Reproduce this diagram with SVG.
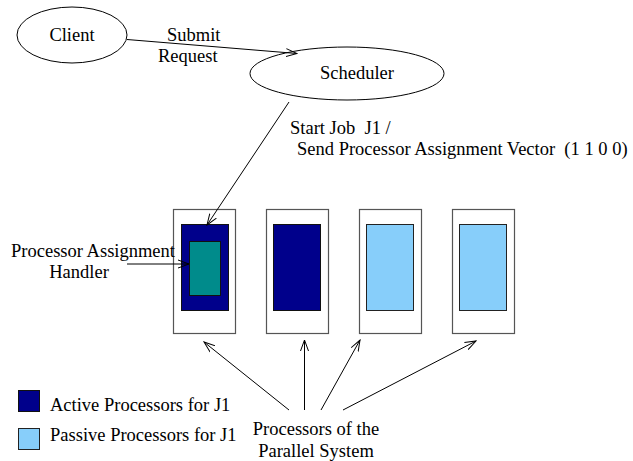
<svg xmlns="http://www.w3.org/2000/svg" width="633" height="461" viewBox="0 0 633 461">
<style>
text{font-family:"Liberation Serif","Times New Roman",serif;font-size:18.5px;fill:#000;white-space:pre}
.ell{fill:#fff;stroke:#000;stroke-width:1}
.outer{fill:#fff;stroke:#555;stroke-width:1.2}
.active{fill:#00008b;stroke:#111;stroke-width:1}
.passive{fill:#87cefa;stroke:#222;stroke-width:1}
.handler{fill:#008b8b;stroke:#111;stroke-width:1}
.conn{stroke:#000;stroke-width:1;fill:none;marker-end:url(#arr)}
</style>
<defs>
<marker id="arr" viewBox="0 0 12 10" refX="11" refY="5" markerWidth="12" markerHeight="10" markerUnits="userSpaceOnUse" orient="auto">
<polyline points="0,1 11,5 0,9" fill="none" stroke="#000" stroke-width="1"/>
</marker>
</defs>
<g id="client">
<ellipse class="ell" cx="72" cy="35" rx="55" ry="28"/>
<text x="72" y="41" text-anchor="middle">Client</text>
</g>
<g id="scheduler">
<ellipse class="ell" cx="347" cy="73.5" rx="97" ry="26.5"/>
<text x="357" y="79" text-anchor="middle">Scheduler</text>
</g>
<g id="proc1">
<rect class="outer" x="173.5" y="209.5" width="62" height="124"/>
<rect class="active" x="181.5" y="224.5" width="47" height="86"/>
</g>
<g id="handler">
<rect class="handler" x="189.5" y="241.5" width="31" height="54"/>
</g>
<g id="proc2">
<rect class="outer" x="266.5" y="209.5" width="62" height="124"/>
<rect class="active" x="273.5" y="224.5" width="47" height="86"/>
</g>
<g id="proc3">
<rect class="outer" x="359.5" y="209.5" width="62" height="124"/>
<rect class="passive" x="366.5" y="224.5" width="47" height="86"/>
</g>
<g id="proc4">
<rect class="outer" x="452.5" y="209.5" width="62" height="124"/>
<rect class="passive" x="459.5" y="224.5" width="47" height="86"/>
</g>
<g id="connectors">
<line class="conn" x1="127" y1="39.5" x2="297" y2="53.5"/>
<line class="conn" x1="289" y1="102" x2="207" y2="225"/>
<line class="conn" x1="127" y1="264" x2="189" y2="264"/>
<line class="conn" x1="289" y1="410" x2="204" y2="342"/>
<line class="conn" x1="304.5" y1="410" x2="304.5" y2="340"/>
<line class="conn" x1="321" y1="410" x2="360" y2="340"/>
<line class="conn" x1="343" y1="410" x2="476" y2="341"/>
</g>
<g id="labels">
<text x="167" y="41">Submit</text>
<text x="158" y="62">Request</text>
<text x="290" y="134">Start Job  J1 /</text>
<text x="297" y="155">Send Processor Assignment Vector  (1 1 0 0)</text>
<text x="93" y="257" text-anchor="middle">Processor Assignment</text>
<text x="79" y="278" text-anchor="middle">Handler</text>
<text x="316" y="435" text-anchor="middle">Processors of the</text>
<text x="316" y="457" text-anchor="middle">Parallel System</text>
</g>
<g id="legend">
<rect class="active" x="18.5" y="390.5" width="21" height="21"/>
<text x="50" y="411">Active Processors for J1</text>
<rect class="passive" x="18.5" y="428.5" width="21" height="21"/>
<text x="50" y="441">Passive Processors for J1</text>
</g>
</svg>
